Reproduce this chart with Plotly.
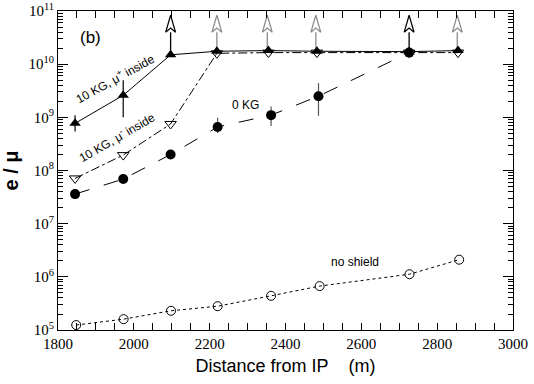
import plotly.graph_objects as go
import numpy as np

# ---------------- data ----------------
distance = [1845, 1972, 2097, 2219, 2355, 2483, 2726, 2855]

mu_plus = [7.7e8, 2.6e9, 1.5e10, 1.75e10, 1.8e10, 1.75e10, 1.72e10, 1.8e10]
mu_plus_err_hi = [1.1e9, 5.0e9, None, None, None, None, None, None]
mu_plus_err_lo = [5.4e8, 1.0e9, None, None, None, None, None, None]

mu_minus = [7.1e7, 1.95e8, 7.5e8, 1.6e10, 1.65e10, 1.65e10, 1.65e10, 1.65e10]

kg0_x = [1845, 1972, 2097, 2221, 2362, 2487, 2726]
kg0 = [3.6e7, 6.9e7, 2.0e8, 6.6e8, 1.1e9, 2.5e9, 1.65e10]
kg0_err_hi = [None, None, None, 9.8e8, 1.6e9, 4.4e9, None]
kg0_err_lo = [None, None, None, 5.1e8, 6.9e8, 1.07e9, None]

noshield_x = [1848, 1973, 2098, 2221, 2362, 2490, 2727, 2858]
noshield = [1.24e5, 1.6e5, 2.3e5, 2.8e5, 4.4e5, 6.7e5, 1.12e6, 2.1e6]

# lower limits (arrows pointing up)
arrow_x = [2097, 2219, 2352, 2480, 2726, 2853]
arrow_from = [1.5e10, 1.75e10, 1.8e10, 1.75e10, 1.65e10, 1.8e10]
arrow_color = ["black", "#8a8a8a", "#8a8a8a", "#8a8a8a", "black", "#8a8a8a"]

x_ticks = list(range(1800, 3001, 100))
y_decades = [5, 6, 7, 8, 9, 10, 11]

# ---------------- figure ----------------
fig = go.Figure()

def errs(vals, hi, lo):
    plus = [(h - v) if h is not None else 0 for v, h in zip(vals, hi)]
    minus = [(v - l) if l is not None else 0 for v, l in zip(vals, lo)]
    return plus, minus

# no shield
fig.add_trace(go.Scatter(
    x=noshield_x, y=noshield, mode="lines+markers",
    line=dict(color="black", width=1, dash="dot"),
    marker=dict(symbol="circle-open", size=9, color="black", line=dict(width=1)),
    showlegend=False))

# 0 KG
p, m = errs(kg0, kg0_err_hi, kg0_err_lo)
fig.add_trace(go.Scatter(
    x=kg0_x, y=kg0, mode="lines+markers",
    line=dict(color="black", width=1, dash="longdash"),
    marker=dict(symbol="circle", size=10, color="black"),
    error_y=dict(type="data", symmetric=False, array=p, arrayminus=m,
                 color="#555555", thickness=1.2, width=0),
    showlegend=False))

# 10 KG mu- inside
fig.add_trace(go.Scatter(
    x=distance, y=mu_minus, mode="lines+markers",
    line=dict(color="black", width=1, dash="dashdot"),
    marker=dict(symbol="triangle-down-open", size=10, color="black", line=dict(width=1)),
    showlegend=False))

# arrows (shafts + open heads)
y_tip = 10 ** 10.92
y_base = 10 ** 10.6
half_w = 13
for xa, ya, ca in zip(arrow_x, arrow_from, arrow_color):
    fig.add_trace(go.Scatter(
        x=[xa, xa], y=[ya, y_base], mode="lines",
        line=dict(color=ca, width=1.3), showlegend=False, hoverinfo="skip"))
    fig.add_trace(go.Scatter(
        x=[xa - half_w, xa, xa + half_w, xa, xa - half_w],
        y=[y_base, y_tip, y_base, 10 ** 10.68, y_base],
        mode="lines", line=dict(color=ca, width=1.2),
        fill="toself", fillcolor="white",
        showlegend=False, hoverinfo="skip"))

# 10 KG mu+ inside
p, m = errs(mu_plus, mu_plus_err_hi, mu_plus_err_lo)
fig.add_trace(go.Scatter(
    x=distance, y=mu_plus, mode="lines+markers",
    line=dict(color="black", width=1),
    marker=dict(symbol="triangle-up", size=10, color="black"),
    error_y=dict(type="data", symmetric=False, array=p, arrayminus=m,
                 color="black", thickness=1.2, width=0),
    showlegend=False))

# invisible trace to carry the minor-tick overlay axis
minor_y = [d * 10 ** e for e in y_decades[:-1] for d in range(2, 10)]
fig.add_trace(go.Scatter(x=[1800], y=[1e6], xaxis="x", yaxis="y2", mode="markers",
                         marker=dict(opacity=0), showlegend=False, hoverinfo="skip"))

# ---------------- annotations ----------------
ann_font = dict(family="Liberation Sans", size=12, color="black")
fig.add_annotation(x=1886, y=10.51, text="(b)", showarrow=False,
                   font=dict(family="Liberation Sans", size=17, color="black"))
fig.add_annotation(x=1951, y=9.74, text="10 KG, μ<sup>+</sup> inside", showarrow=False,
                   textangle=-29, font=ann_font)
fig.add_annotation(x=1954, y=8.63, text="10 KG, μ<sup>-</sup> inside", showarrow=False,
                   textangle=-30, font=ann_font)
fig.add_annotation(x=2294, y=9.23, text="0 KG", showarrow=False, font=ann_font)
fig.add_annotation(x=2584, y=6.285, text="no shield", showarrow=False, font=ann_font)

tick_font = dict(family="Liberation Serif", size=15, color="black")
title_font = dict(family="Liberation Sans", size=18, color="black")

yr = [np.log10(1e5) - 1e-6, np.log10(1e11) + 1e-6]

fig.update_layout(
    width=534, height=384,
    margin=dict(l=57.5, r=21, t=11, b=54),
    paper_bgcolor="white", plot_bgcolor="white",
    xaxis=dict(
        range=[1800, 3000], automargin=False,
        tickmode="array", tickvals=x_ticks,
        ticktext=[str(v) if v % 200 == 0 else "" for v in x_ticks],
        ticks="inside", ticklen=7, tickwidth=1, tickcolor="black",
        minor=dict(ticks="inside", ticklen=4, dtick=50, tick0=1800, tickcolor="black"),
        showline=True, linecolor="black", linewidth=1, mirror="allticks",
        showgrid=False, zeroline=False, tickfont=tick_font,
        title=dict(text="Distance from IP\u00a0\u00a0\u00a0\u00a0(m)", font=title_font, standoff=8),
    ),
    yaxis=dict(
        type="log", range=yr, automargin=False,
        tickmode="array", tickvals=[10 ** e for e in y_decades],
        ticktext=["10<sup>%d</sup>" % e for e in y_decades],
        ticks="inside", ticklen=10, tickwidth=1, tickcolor="black",
        showline=True, linecolor="black", linewidth=1, mirror="allticks",
        showgrid=False, zeroline=False, tickfont=tick_font,
        title=dict(text="<b>e / μ</b>", font=dict(family="Liberation Sans",
                                                  size=20, color="black"), standoff=6),
    ),
    yaxis2=dict(
        type="log", range=yr, overlaying="y", side="left", automargin=False,
        tickmode="array", tickvals=minor_y, showticklabels=False,
        ticks="inside", ticklen=5, tickwidth=1, tickcolor="black",
        showline=False, mirror="allticks", showgrid=False, zeroline=False,
    ),
)

# remove the default 8 px page margin so the figure sits at the window's corner
fig.write_html("out.html", config={"displayModeBar": False},
               post_script="document.body.style.margin='0';")
